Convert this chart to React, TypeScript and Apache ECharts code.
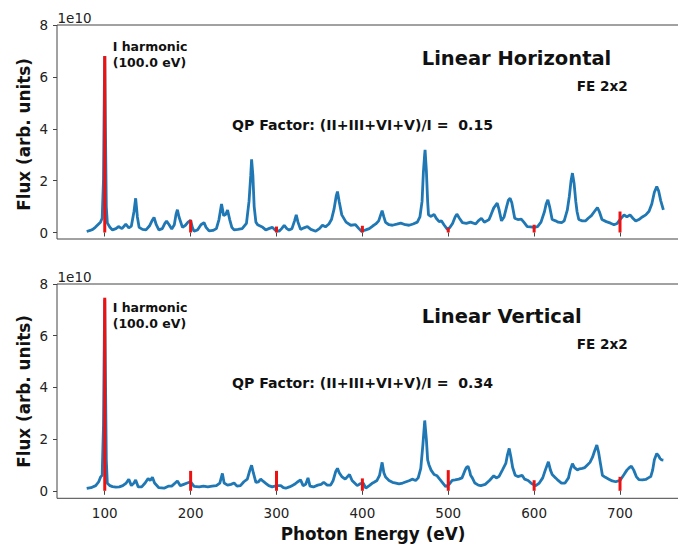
import React, { useEffect, useRef } from "react";
import * as echarts from "echarts";

// Photon energy (eV) and flux (units of 1e10) — Linear Horizontal
const hEnergy = [79, 83, 86, 89, 92, 95, 97, 98.5, 99.5, 100, 100.8, 101.8, 103, 106, 109, 113, 116, 120, 124.5, 128, 131, 134, 136, 138, 140, 144, 148, 152, 155, 157.4, 160, 163, 167, 170, 172, 175, 178, 181, 183, 184.6, 186.5, 190.5, 194, 197, 200, 202, 204, 208, 212, 215.6, 218, 221.5, 226, 230, 233, 236, 238.5, 241, 243, 245.5, 248, 250.6, 255, 260, 265, 268, 270, 271, 272.5, 274, 276, 278, 281, 284, 287.5, 291, 295, 299, 303, 306, 309, 312, 314.6, 318, 321, 323, 325, 328, 332, 336, 340, 345.7, 350, 353.5, 357, 361, 364, 367, 369.5, 371, 373, 376, 381, 386.5, 392, 396, 399, 404, 408, 412, 415.6, 419, 421.5, 423, 425, 427, 431, 435, 440, 444.7, 450, 454.4, 459, 464, 467, 469.5, 471, 472.5, 473, 474.5, 476, 477, 480, 483.5, 486, 489.4, 492, 495, 499, 502, 505, 508, 510, 513, 516.5, 521, 526, 532, 535, 538.6, 542, 545, 547.5, 550, 553, 557, 559, 562, 565, 568, 570, 572, 574, 577.4, 581, 585, 588, 592, 596, 600, 604, 608, 612, 614, 616, 618, 621, 625, 628, 632, 635, 638.6, 641, 643, 644.6, 646.5, 648.5, 650, 652, 656, 660, 663, 666.7, 670, 673.7, 676, 679, 684, 689, 693, 696.7, 700, 704.7, 708, 711.7, 715, 718.3, 722, 726, 730, 733.8, 737, 740, 742.8, 745, 747.4, 750.5];
const hFlux = [0.04, 0.08, 0.12, 0.2, 0.3, 0.4, 0.55, 2.0, 5.5, 6.8, 4.0, 1.0, 0.37, 0.2, 0.1, 0.15, 0.23, 0.15, 0.32, 0.18, 0.25, 0.8, 1.32, 0.6, 0.2, 0.12, 0.1, 0.25, 0.45, 0.58, 0.3, 0.1, 0.15, 0.35, 0.44, 0.3, 0.13, 0.3, 0.7, 0.88, 0.6, 0.2, 0.28, 0.4, 0.47, 0.2, 0.05, 0.1, 0.3, 0.38, 0.2, 0.06, 0.08, 0.15, 0.5, 1.1, 0.65, 0.7, 0.87, 0.5, 0.2, 0.1, 0.12, 0.15, 0.35, 1.2, 2.2, 2.82, 2.2, 1.0, 0.4, 0.3, 0.25, 0.2, 0.1, 0.15, 0.2, 0.08, 0.05, 0.15, 0.28, 0.15, 0.1, 0.15, 0.45, 0.68, 0.4, 0.12, 0.18, 0.23, 0.12, 0.05, 0.15, 0.28, 0.22, 0.33, 0.5, 0.9, 1.4, 1.58, 1.2, 0.68, 0.4, 0.28, 0.3, 0.15, 0.05, 0.1, 0.15, 0.25, 0.33, 0.45, 0.7, 0.84, 0.6, 0.39, 0.3, 0.28, 0.32, 0.36, 0.3, 0.28, 0.33, 0.4, 0.6, 1.2, 2.3, 3.0, 3.19, 2.4, 1.2, 0.68, 0.62, 0.7, 0.55, 0.42, 0.45, 0.3, 0.12, 0.2, 0.35, 0.6, 0.71, 0.55, 0.38, 0.35, 0.4, 0.33, 0.45, 0.55, 0.4, 0.45, 0.5, 0.7, 0.95, 1.13, 0.9, 0.45, 0.6, 1.0, 1.25, 1.32, 1.15, 0.55, 0.5, 0.52, 0.4, 0.23, 0.22, 0.2, 0.23, 0.4, 0.8, 1.1, 1.26, 1.0, 0.5, 0.45, 0.4, 0.38, 0.45, 0.86, 1.4, 2.0, 2.29, 1.9, 1.2, 0.8, 0.5, 0.45, 0.45, 0.55, 0.65, 0.8, 0.96, 0.8, 0.5, 0.42, 0.36, 0.3, 0.35, 0.5, 0.68, 0.6, 0.68, 0.55, 0.44, 0.5, 0.6, 0.68, 0.82, 1.1, 1.55, 1.77, 1.6, 1.23, 0.87];

// Linear Vertical
const vEnergy = [79, 84, 89.5, 93, 95.3, 97, 98.5, 99.5, 100, 100.8, 101.8, 103, 106, 109, 113, 117, 121, 125, 128, 131, 134, 136, 139, 143, 147, 150.5, 153, 155.5, 158, 163, 169, 174, 178, 182, 184.6, 188, 192, 196, 200, 204, 210, 215, 220, 225, 230, 234, 237, 239, 243, 247, 250.6, 254, 258, 262, 266, 269, 271, 273, 276, 279, 281.6, 284, 287.5, 291, 295, 300, 305, 308, 310.8, 315, 318, 321, 324, 328, 331, 334, 336.7, 339, 343, 348, 352, 355, 359, 363, 366, 369, 371, 373, 376, 380, 385, 388, 391, 394, 398, 401, 404, 408, 411, 413.6, 417, 420, 423, 425, 427, 431, 435, 439, 442.7, 447, 451, 455, 458, 462, 465, 468, 470.5, 472.6, 474.5, 476, 477.6, 480, 483.5, 487, 490, 493, 497, 501, 504.6, 508, 512.3, 516, 519, 521, 523, 525, 526, 528, 531, 535, 538, 543, 548, 553, 556, 559, 563, 567, 569, 571, 573, 575, 578, 581, 586, 589, 593, 597, 601.9, 606, 610, 613, 616.6, 619, 621, 625, 628, 631.8, 636, 640, 642, 644.6, 647, 650.4, 653, 656, 659, 662, 665, 668, 670, 673, 675, 677, 679.5, 683, 687, 691, 695, 700, 704.7, 708, 711, 713.3, 716, 719, 722, 726, 730, 733, 735.8, 738, 740, 742.8, 745, 746.6, 748.5, 750.5];
const vFlux = [0.09, 0.12, 0.2, 0.35, 0.54, 0.6, 2.5, 6.0, 7.4, 4.5, 1.2, 0.29, 0.2, 0.16, 0.14, 0.15, 0.2, 0.3, 0.45, 0.2, 0.3, 0.42, 0.15, 0.15, 0.3, 0.48, 0.4, 0.52, 0.3, 0.12, 0.1, 0.18, 0.18, 0.3, 0.38, 0.2, 0.25, 0.3, 0.35, 0.17, 0.15, 0.18, 0.15, 0.18, 0.2, 0.3, 0.67, 0.3, 0.22, 0.25, 0.3, 0.18, 0.2, 0.35, 0.45, 0.8, 0.99, 0.7, 0.33, 0.35, 0.45, 0.38, 0.29, 0.2, 0.15, 0.2, 0.2, 0.12, 0.1, 0.15, 0.2, 0.25, 0.33, 0.42, 0.2, 0.25, 0.5, 0.18, 0.15, 0.22, 0.25, 0.33, 0.22, 0.22, 0.4, 0.75, 0.87, 0.7, 0.55, 0.45, 0.63, 0.4, 0.3, 0.2, 0.28, 0.3, 0.1, 0.2, 0.28, 0.33, 0.4, 0.6, 1.1, 0.7, 0.53, 0.4, 0.33, 0.3, 0.27, 0.3, 0.35, 0.4, 0.45, 0.4, 0.5, 0.87, 1.8, 2.72, 2.0, 1.2, 1.0, 0.8, 0.63, 0.58, 0.45, 0.33, 0.16, 0.25, 0.4, 0.42, 0.45, 0.5, 0.75, 0.9, 0.95, 0.75, 0.6, 0.5, 0.3, 0.22, 0.2, 0.25, 0.4, 0.58, 0.5, 0.55, 0.8, 1.06, 1.4, 1.64, 1.3, 0.9, 0.6, 0.55, 0.6, 0.45, 0.4, 0.28, 0.2, 0.3, 0.5, 0.8, 1.12, 0.8, 0.63, 0.5, 0.4, 0.3, 0.3, 0.5, 0.8, 1.05, 0.9, 0.81, 0.85, 0.87, 0.9, 1.0, 1.1, 1.3, 1.5, 1.77, 1.5, 1.1, 0.6, 0.52, 0.45, 0.38, 0.35, 0.4, 0.63, 0.8, 0.9, 0.95, 0.8, 0.55, 0.43, 0.42, 0.44, 0.5, 0.55, 0.8, 1.2, 1.44, 1.35, 1.25, 1.2, 1.19];

// Harmonic markers (red lines)
const harmonicEnergy = [100, 200, 300, 400, 500, 600, 700];
const hHarmonicFlux = [6.8, 0.49, 0.23, 0.26, 0.19, 0.3, 0.81];
const vHarmonicFlux = [7.47, 0.77, 0.77, 0.48, 0.8, 0.41, 0.54];

const xTicks = [100, 200, 300, 400, 500, 600, 700];
const yTicks = [0, 2, 4, 6, 8];
const yOffsetText = "1e10";

const BLUE = "#1f77b4";
const RED = "#ee1111";
const FONT = '"DejaVu Sans", sans-serif';
const AX = "#444";
const LBL = "#222";

export default function App() {
  const ref = useRef<HTMLDivElement>(null);
  useEffect(() => {
    const chart = echarts.init(ref.current!, undefined, { renderer: "svg" });
    const hData = hEnergy.map((e, i) => [e, hFlux[i]]);
    const vData = vEnergy.map((e, i) => [e, vFlux[i]]);
    const hRed = harmonicEnergy.map((e, i) => [e, hHarmonicFlux[i]]);
    const vRed = harmonicEnergy.map((e, i) => [e, vHarmonicFlux[i]]);

    const renderRed = (params: any, api: any) => {
      const x = api.value(0);
      const y = api.value(1);
      const p0 = api.coord([x, 0]);
      const p1 = api.coord([x, y]);
      return {
        type: "line",
        shape: { x1: p0[0], y1: p0[1], x2: p1[0], y2: p1[1] },
        style: { stroke: RED, lineWidth: 3 },
      };
    };

    const xAxisBase = (gridIndex: number, showLabels: boolean) => ({
      type: "value",
      gridIndex,
      min: 44.4,
      max: 783.6,
      axisLine: { show: false },
      splitLine: { show: false },
      axisTick: {
        show: true,
        customValues: xTicks,
        length: 4,
        lineStyle: { color: AX, width: 1 },
      },
      axisLabel: {
        show: showLabels,
        customValues: xTicks,
        color: LBL,
        fontSize: 13.5,
        fontFamily: FONT,
        margin: 8,
      },
    });
    const yAxisBase = (gridIndex: number, min: number) => ({
      type: "value",
      gridIndex,
      min,
      max: 8,
      axisLine: { show: false },
      splitLine: { show: false },
      axisTick: {
        show: true,
        customValues: yTicks,
        length: 4,
        lineStyle: { color: AX, width: 1 },
      },
      axisLabel: {
        customValues: yTicks,
        color: LBL,
        fontSize: 13.5,
        fontFamily: FONT,
        margin: 9,
      },
    });

    const txt = (text: string, x: number, y: number, size: number, extra: any = {}) => ({
      type: "text",
      x,
      y,
      ...extra,
      style: {
        text,
        fill: "#111",
        font: `bold ${size}px ${FONT}`,
        align: extra.align || "left",
        verticalAlign: "middle",
      },
    });

    chart.setOption({
      animation: false,
      backgroundColor: "#fff",
      grid: [
        { left: 57, top: 25, width: 634.8, height: 214, outerBoundsMode: "none", containLabel: false, show: true, borderColor: AX, borderWidth: 1, backgroundColor: "transparent" },
        { left: 57, top: 284, width: 634.8, height: 214.3, outerBoundsMode: "none", containLabel: false, show: true, borderColor: AX, borderWidth: 1, backgroundColor: "transparent" },
      ],
      xAxis: [xAxisBase(0, false), xAxisBase(1, true)],
      yAxis: [yAxisBase(0, -0.25), yAxisBase(1, -0.29)],
      series: [
        {
          type: "line",
          xAxisIndex: 0,
          yAxisIndex: 0,
          data: hData,
          showSymbol: false,
          lineStyle: { color: BLUE, width: 2.8 },
          z: 2,
        },
        {
          type: "custom",
          xAxisIndex: 0,
          yAxisIndex: 0,
          data: hRed,
          renderItem: renderRed,
          z: 3,
        },
        {
          type: "line",
          xAxisIndex: 1,
          yAxisIndex: 1,
          data: vData,
          showSymbol: false,
          lineStyle: { color: BLUE, width: 2.8 },
          z: 2,
        },
        {
          type: "custom",
          xAxisIndex: 1,
          yAxisIndex: 1,
          data: vRed,
          renderItem: renderRed,
          z: 3,
        },
      ],
      graphic: [
        { type: "text", x: 57.5, y: 18, style: { text: yOffsetText, fill: LBL, font: `13.5px ${FONT}`, verticalAlign: "middle" } },
        { type: "text", x: 57.5, y: 277, style: { text: yOffsetText, fill: LBL, font: `13.5px ${FONT}`, verticalAlign: "middle" } },
        txt("Flux (arb. units)", 24, 134.5, 16.8, { rotation: Math.PI / 2, align: "center" }),
        txt("Flux (arb. units)", 24, 391.5, 16.8, { rotation: Math.PI / 2, align: "center" }),
        txt("Photon Energy (eV)", 373, 533.5, 16.8, { align: "center" }),
        txt("I harmonic", 112.7, 46, 12.5),
        txt("(100.0 eV)", 112.7, 62, 12.5),
        txt("Linear Horizontal", 421.7, 58.3, 19.5),
        txt("FE 2x2", 576.7, 86.3, 13.6),
        txt("QP Factor: (II+III+VI+V)/I =  0.15", 232, 125.3, 14.1),
        txt("I harmonic", 112.7, 307.8, 12.5),
        txt("(100.0 eV)", 112.7, 323.7, 12.5),
        txt("Linear Vertical", 421.7, 316.3, 19.5),
        txt("FE 2x2", 576.7, 344.3, 13.6),
        txt("QP Factor: (II+III+VI+V)/I =  0.34", 232, 383.3, 14.1),
      ],
    });
    return () => chart.dispose();
  }, []);
  return <div ref={ref} style={{ position: "fixed", left: 0, top: 0, width: 678, height: 544 }} />;
}
